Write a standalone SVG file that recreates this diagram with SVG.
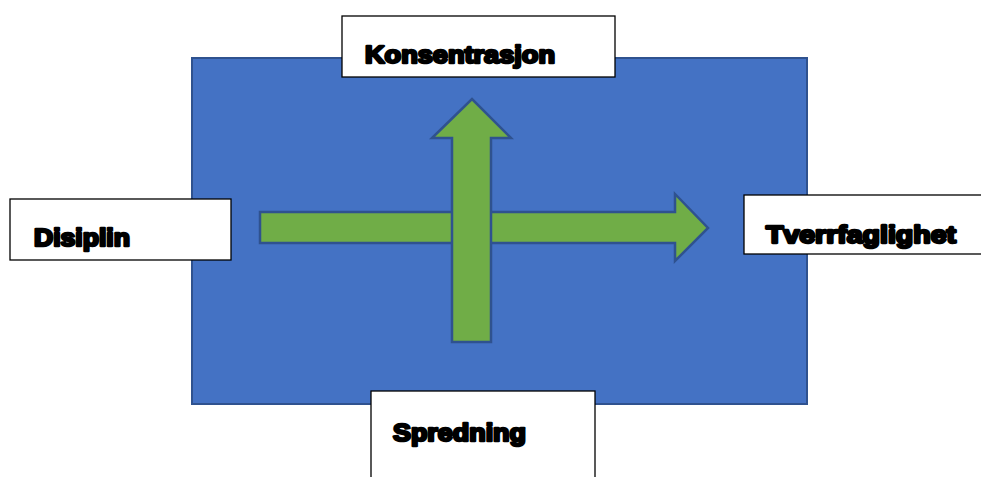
<svg xmlns="http://www.w3.org/2000/svg" width="981" height="477" viewBox="0 0 981 477">
<style>
.lbl{fill:#fff;stroke:#000;stroke-width:1.3}
.t{font-family:"Liberation Sans",Arial,sans-serif;font-weight:bold;font-size:23px;fill:#000;stroke:#000;stroke-width:2.4;stroke-linejoin:round}
.arrow{fill:#70AD47;stroke:#2F528F;stroke-width:2.5;stroke-linejoin:miter}
</style>
<rect width="981" height="477" fill="#fff"/>
<g id="field">
<rect x="192" y="58" width="615" height="346" fill="#4472C4" stroke="#2F528F" stroke-width="2"/>
</g>
<g id="connectors">
<polygon class="arrow" points="260,212 675,212 675,194 708,228 675,261 675,243 260,243"/>
<polygon class="arrow" points="452,342 452,138 432,138 472,99 511,138 491,138 491,342"/>
</g>
<g id="konsentrasjon">
<rect class="lbl" x="342" y="16" width="273" height="61"/>
<text class="t" x="365" y="63" textLength="190" lengthAdjust="spacingAndGlyphs">Konsentrasjon</text>
</g>
<g id="disiplin">
<rect class="lbl" x="10" y="199" width="221" height="61"/>
<text class="t" x="34" y="246" textLength="96" lengthAdjust="spacingAndGlyphs">Disiplin</text>
</g>
<g id="tverrfaglighet">
<rect class="lbl" x="744" y="195" width="240" height="59"/>
<text class="t" x="766" y="243" textLength="190" lengthAdjust="spacingAndGlyphs">Tverrfaglighet</text>
</g>
<g id="spredning">
<rect class="lbl" x="371" y="391" width="224" height="90"/>
<text class="t" x="393" y="441" textLength="133" lengthAdjust="spacingAndGlyphs">Spredning</text>
</g>
</svg>
